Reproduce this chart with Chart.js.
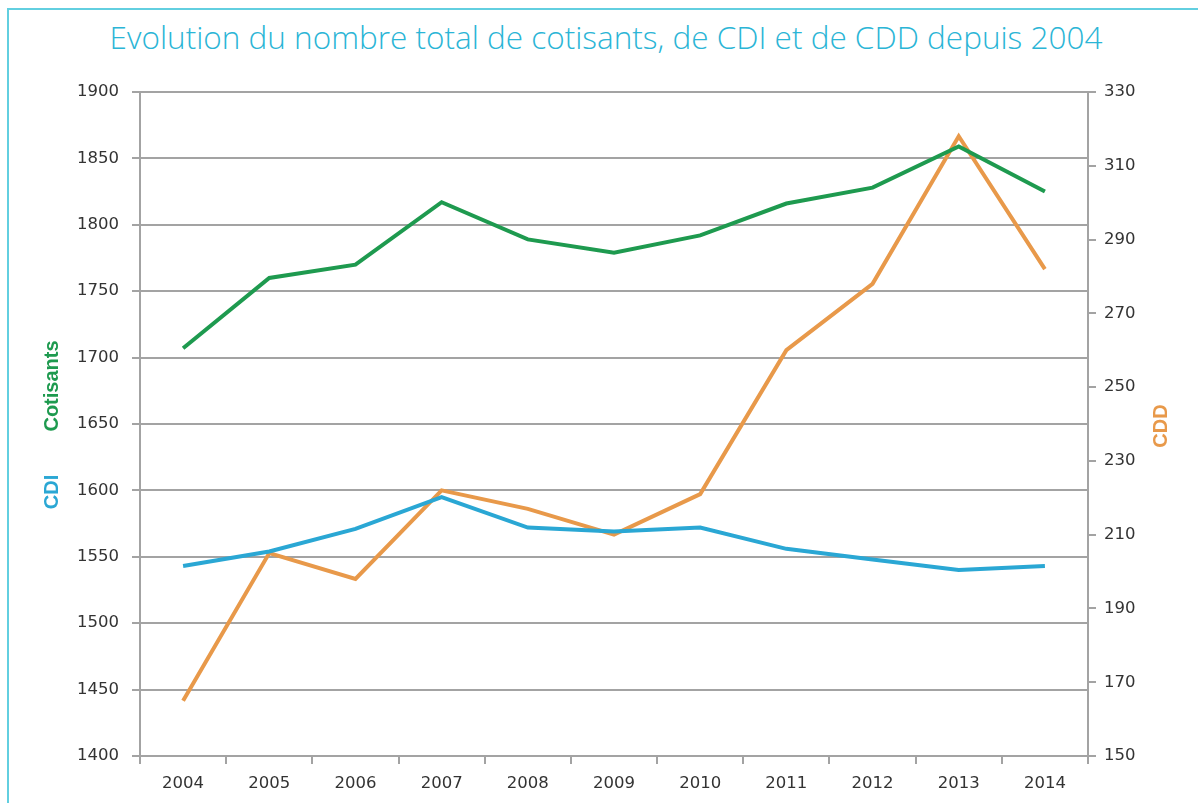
<!DOCTYPE html>
<html>
<head>
<meta charset="utf-8">
<script src="https://cdn.jsdelivr.net/npm/chart.js@4/dist/chart.umd.min.js"></script>
<style>
  body { margin: 0; background: #fff; }
  #wrap { position: relative; width: 1198px; height: 803px; overflow: hidden; }
  #frame { position: absolute; left: 7px; top: 8px; width: 1300px; height: 900px;
           border-left: 2px solid #62cfe0; border-top: 2px solid #62cfe0; }
  #title { position: absolute; left: 0; top: 15px; width: 1212px; text-align: center;
           font-family: "Open Sans", sans-serif; font-weight: 300; font-size: 31.5px; color: #2bb5d6; }
  canvas { position: absolute; left: 0; top: 0; }
</style>
</head>
<body>
<div id="wrap">
  <div id="frame"></div>
  <div id="title">Evolution du nombre total de cotisants, de CDI et de CDD depuis 2004</div>
  <canvas id="myChart" width="1198" height="803"></canvas>
</div>

<script>
var years = ['2004', '2005', '2006', '2007', '2008', '2009', '2010', '2011', '2012', '2013', '2014'];
var cotisants = [1707, 1760, 1770, 1817, 1789, 1779, 1792, 1816, 1828, 1859, 1825];
var cdi = [1543, 1554, 1571, 1595, 1572, 1569, 1572, 1556, 1548, 1540, 1543];
var cdd = [165, 205, 198, 222, 217, 210, 221, 260, 278, 318, 282];

var gridGray = '#a3a3a3';
var tickFont = { family: 'DejaVu Sans', size: 16.5 };

function plain(v) { return String(v); }

// vertical axis titles, CDI and Cotisants share the left side in two colours
var axisTitles = {
  id: 'axisTitles',
  afterDraw: function (chart) {
    var ctx = chart.ctx;
    ctx.save();
    ctx.font = 'bold 20px "Liberation Sans"';
    ctx.textAlign = 'center';
    ctx.textBaseline = 'middle';

    ctx.save();
    ctx.translate(52, 386);
    ctx.rotate(-Math.PI / 2);
    ctx.fillStyle = '#1e9a4f';
    ctx.fillText('Cotisants', 0, 0);
    ctx.restore();

    ctx.save();
    ctx.translate(52, 492);
    ctx.rotate(-Math.PI / 2);
    ctx.fillStyle = '#2aa7d4';
    ctx.fillText('CDI', 0, 0);
    ctx.restore();

    ctx.save();
    ctx.translate(1161, 426);
    ctx.rotate(-Math.PI / 2);
    ctx.fillStyle = '#e8994a';
    ctx.fillText('CDD', 0, 0);
    ctx.restore();

    ctx.restore();
  }
};

function createChart() {
  var ctx = document.getElementById('myChart').getContext('2d');
  new Chart(ctx, {
    type: 'line',
    data: {
      labels: years,
      datasets: [
        { label: 'Cotisants', data: cotisants, yAxisID: 'y', borderColor: '#1e9a4f' },
        { label: 'CDI', data: cdi, yAxisID: 'y', borderColor: '#2aa7d4' },
        { label: 'CDD', data: cdd, yAxisID: 'y1', borderColor: '#e8994a' }
      ]
    },
    options: {
      responsive: false,
      animation: false,
      datasets: { line: { borderWidth: 4, pointRadius: 0, tension: 0, fill: false } },
      layout: { padding: { top: 92, left: 0, right: 0, bottom: 0 } },
      plugins: { legend: { display: false }, tooltip: { enabled: false } },
      scales: {
        x: {
          offset: true,
          grid: { offset: true, drawOnChartArea: false, color: gridGray, lineWidth: 2, tickLength: 8 },
          border: { color: gridGray, width: 2 },
          ticks: { color: '#333', font: tickFont, padding: 10, maxRotation: 0 },
          afterFit: function (s) { s.height = 47; }
        },
        y: {
          position: 'left',
          min: 1400, max: 1900,
          ticks: { stepSize: 50, color: '#333', font: tickFont, padding: 13, callback: plain },
          grid: { color: gridGray, lineWidth: 2, tickLength: 8 },
          border: { color: gridGray, width: 2 },
          afterFit: function (s) { s.width = 140; }
        },
        y1: {
          position: 'right',
          min: 150, max: 330,
          ticks: { stepSize: 20, color: '#333', font: tickFont, padding: 8, callback: plain },
          grid: { drawOnChartArea: false, color: gridGray, lineWidth: 2, tickLength: 8 },
          border: { color: gridGray, width: 2 },
          afterFit: function (s) { s.width = 110; }
        }
      }
    },
    plugins: [axisTitles]
  });
}
createChart();
</script>
</body>
</html>
